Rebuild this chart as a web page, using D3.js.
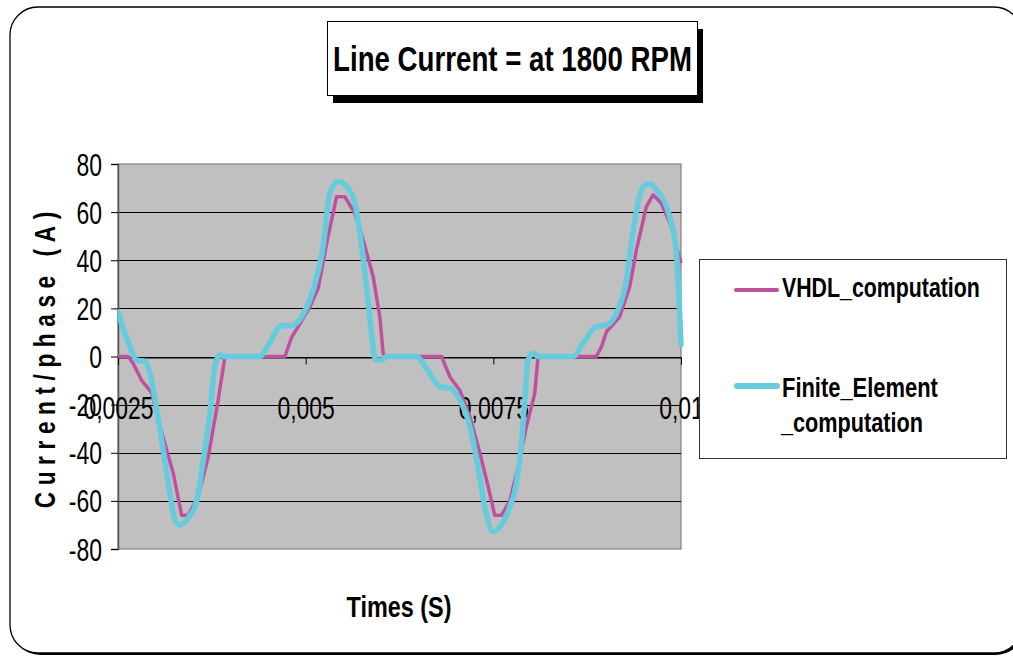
<!DOCTYPE html>
<html>
<head>
<meta charset="utf-8">
<script src="https://cdn.jsdelivr.net/npm/d3@7"></script>
<style>
  html, body { margin: 0; padding: 0; background: #fff; }
  svg { display: block; font-family: "Liberation Sans", Arial, sans-serif; }
</style>
</head>
<body>
<svg id="chart" width="1013" height="656"></svg>
<script>
// ---- Data ----
const chartTitle = "Line Current = at 1800 RPM";
const xTitle = "Times (S)";
const yTitle = "Current/phase  (A)";
const seriesNames = ["VHDL_computation", "Finite_Element", "_computation"];

const xTickValues = [0.0025, 0.005, 0.0075, 0.01];
const xTickLabels = ["0,0025", "0,005", "0,0075", "0,01"];
const yTickValues = [-80, -60, -40, -20, 0, 20, 40, 60, 80];
const yTickLabels = ["-80", "-60", "-40", "-20", "0", "20", "40", "60", "80"];

const vhdlTime = [0.0025, 0.002637, 0.002704, 0.002816, 0.002949, 0.003059, 0.003236, 0.003348, 0.003436,
  0.003569, 0.003702, 0.003835, 0.003925, 0.004723, 0.004813, 0.0049, 0.005056, 0.005167, 0.005279,
  0.005412, 0.005522, 0.005655, 0.005766, 0.005899, 0.005988, 0.006032, 0.006055, 0.00681, 0.00692,
  0.007053, 0.007187, 0.00732, 0.00743, 0.007519, 0.007609, 0.007719, 0.00783, 0.007941, 0.008052,
  0.008096, 0.008873, 0.00894, 0.009007, 0.009184, 0.009317, 0.009406, 0.009539, 0.009627, 0.009739,
  0.009872, 0.009939, 0.01];
const vhdlCurrent = [0, 0, -3, -10, -15, -29, -48.5, -66, -66,
  -58, -41.7, -18, 0, 0, 8, 12.4, 20.7, 28.4, 47,
  66.4, 66.4, 59.5, 48.4, 33.2, 16.5, 1.3, 0, 0, -8.4,
  -14, -25, -40, -54, -66, -66, -60, -46, -29, -15.3,
  0, 0, 4, 10.3, 16.5, 29, 44.3, 62.3, 67.2, 63.7,
  54, 45.7, 38.8];

const feTime = [0.0025, 0.00266, 0.002749, 0.00286, 0.002926, 0.003015, 0.003103, 0.003192, 0.003259,
  0.003325, 0.003436, 0.003548, 0.003636, 0.003725, 0.003791, 0.003858, 0.003925, 0.004391, 0.00448,
  0.004679, 0.004813, 0.004946, 0.0051, 0.005233, 0.005323, 0.005433, 0.005545, 0.005655, 0.005811,
  0.005878, 0.005931, 0.006011, 0.006077, 0.006121, 0.006477, 0.00661, 0.006787, 0.00692, 0.007053,
  0.007187, 0.007297, 0.007386, 0.007497, 0.007586, 0.007719, 0.007808, 0.007875, 0.007919, 0.007963,
  0.008029, 0.008096, 0.008562, 0.008695, 0.008873, 0.009007, 0.00914, 0.009273, 0.009339, 0.009427,
  0.009494, 0.009583, 0.009694, 0.009849, 0.009939, 0.01];
const feCurrent = [18.6, 4, -1.5, -2, -7, -22, -39, -57, -68,
  -70, -67, -60, -43, -23.5, -4, 0.6, 0, 0, 3.5,
  12.8, 12.8, 16.5, 27.6, 45.6, 68, 72.7, 70.6, 63.7, 29,
  9.6, -1.5, -1.5, 0, 0, 0, -5, -12.5, -13.2, -18,
  -29, -46, -62.5, -72.8, -70.8, -62.5, -52.7, -36, -18, -1.5,
  1.3, 0, 0, 5.5, 12.4, 13, 18, 31.8, 47, 63.7,
  70.6, 71.8, 68.5, 58, 43, 5];

// ---- Layout ----
const svg = d3.select("#chart");
const plot = { left: 118, right: 681, top: 164, bottom: 549 };
const colVHDL = "#BF50A0";
const colFE = "#66CCDD";

const x = d3.scaleLinear().domain([0.0025, 0.01]).range([plot.left, plot.right]);
const y = d3.scaleLinear().domain([-80, 80]).range([plot.bottom, plot.top]);

// helper: text horizontally condensed (to target width or fixed factor)
function addText(parent, str, px, py, o) {
  const t = parent.append("text")
    .attr("x", 0).attr("y", 0)
    .attr("text-anchor", o.anchor || "start")
    .attr("font-size", o.size)
    .attr("font-weight", o.weight || "normal")
    .attr("fill", "#000")
    .text(str);
  const natural = t.node().getComputedTextLength();
  const s = o.width ? o.width / natural : (o.sx || 0.82);
  t.attr("transform", `translate(${px},${py}) scale(${s},1)`);
  return t;
}

// Outer rounded frame with shadow
svg.append("rect").attr("x", 12).attr("y", 9).attr("width", 1012).attr("height", 646)
  .attr("rx", 28).attr("fill", "#000");
svg.append("rect").attr("x", 10).attr("y", 7).attr("width", 1012).attr("height", 646)
  .attr("rx", 28).attr("fill", "#fff").attr("stroke", "#000").attr("stroke-width", 1.3);

// Title box with shadow
svg.append("rect").attr("x", 333).attr("y", 29).attr("width", 370).attr("height", 74).attr("fill", "#000");
svg.append("rect").attr("x", 327.5).attr("y", 21.5).attr("width", 370).attr("height", 74)
  .attr("fill", "#fff").attr("stroke", "#000").attr("stroke-width", 1);
addText(svg, chartTitle, 512.5, 71, { size: 36, weight: "bold", anchor: "middle", width: 359 });

// Plot background
svg.append("rect").attr("x", plot.left).attr("y", plot.top)
  .attr("width", plot.right - plot.left).attr("height", plot.bottom - plot.top)
  .attr("fill", "#C0C0C0").attr("stroke", "#808080").attr("stroke-width", 1.2);

// Gridlines
svg.append("g").selectAll("line").data(yTickValues.filter(v => v !== 80 && v !== -80))
  .join("line")
  .attr("x1", plot.left).attr("x2", plot.right)
  .attr("y1", d => Math.round(y(d)) + 0.5).attr("y2", d => Math.round(y(d)) + 0.5)
  .attr("stroke", "#000").attr("stroke-width", 1);

// Y axis
const yAxis = svg.append("g").attr("transform", `translate(${plot.left},0)`)
  .call(d3.axisLeft(y).tickValues(yTickValues).tickSize(7).tickFormat((d, i) => yTickLabels[i]));
yAxis.select(".domain").attr("stroke", "#555").attr("stroke-width", 1.5);
yAxis.selectAll(".tick line").attr("stroke", "#000");
yAxis.selectAll(".tick text")
  .attr("x", null).attr("dy", null).attr("y", null)
  .attr("font-size", 31).attr("font-family", "Liberation Sans, Arial, sans-serif")
  .attr("text-anchor", "end").attr("fill", "#000")
  .attr("transform", "translate(-16,11) scale(0.74,1)");

// X axis at y = 0
const xAxis = svg.append("g").attr("transform", `translate(0,${Math.round(y(0)) + 0.5})`)
  .call(d3.axisBottom(x).tickValues(xTickValues).tickSize(7).tickFormat((d, i) => xTickLabels[i]));
xAxis.select(".domain").attr("stroke", "#000").attr("stroke-width", 1);
xAxis.selectAll(".tick line").attr("stroke", "#000");
xAxis.selectAll(".tick text")
  .attr("x", null).attr("dy", null).attr("y", null)
  .attr("font-size", 31).attr("font-family", "Liberation Sans, Arial, sans-serif")
  .attr("text-anchor", "middle").attr("fill", "#000")
  .attr("transform", "translate(0,61) scale(0.74,1)");

// Series lines
svg.append("clipPath").attr("id", "clip").append("rect")
  .attr("x", plot.left).attr("y", plot.top - 5)
  .attr("width", plot.right - plot.left + 3).attr("height", plot.bottom - plot.top + 10);

const vhdlData = vhdlTime.map((t, i) => [t, vhdlCurrent[i]]);
const feData = feTime.map((t, i) => [t, feCurrent[i]]);
const lineV = d3.line().x(d => x(d[0])).y(d => y(d[1]));
const lineF = d3.line().x(d => x(d[0])).y(d => y(d[1])).curve(d3.curveMonotoneX);

const lines = svg.append("g").attr("clip-path", "url(#clip)");
lines.append("path").datum(vhdlData).attr("d", lineV)
  .attr("fill", "none").attr("stroke", colVHDL).attr("stroke-width", 3.5)
  .attr("stroke-linejoin", "round");
lines.append("path").datum(feData).attr("d", lineF)
  .attr("fill", "none").attr("stroke", colFE).attr("stroke-width", 5.5)
  .attr("stroke-linejoin", "round").attr("stroke-linecap", "round");

// Axis titles
addText(svg, xTitle, 399, 617, { size: 30, weight: "bold", anchor: "middle", width: 105 });
svg.append("text")
  .attr("transform", "translate(55,360) rotate(-90) scale(0.78,1)")
  .attr("text-anchor", "middle")
  .attr("font-size", 29).attr("font-weight", "bold").attr("fill", "#000")
  .attr("textLength", 380).attr("lengthAdjust", "spacing")
  .text(yTitle);

// Legend
const lg = svg.append("g");
lg.append("rect").attr("x", 699.5).attr("y", 259.5).attr("width", 307).attr("height", 199)
  .attr("fill", "#fff").attr("stroke", "#333").attr("stroke-width", 1);
lg.append("line").attr("x1", 736).attr("x2", 777).attr("y1", 290).attr("y2", 290)
  .attr("stroke", colVHDL).attr("stroke-width", 4).attr("stroke-linecap", "round");
lg.append("line").attr("x1", 737).attr("x2", 777).attr("y1", 386).attr("y2", 386)
  .attr("stroke", colFE).attr("stroke-width", 6).attr("stroke-linecap", "round");
addText(lg, seriesNames[0], 782, 297, { size: 28, weight: "bold", width: 198 });
addText(lg, seriesNames[1], 782, 397, { size: 28, weight: "bold", width: 156 });
addText(lg, seriesNames[2], 781, 432, { size: 28, weight: "bold", width: 142 });
</script>
</body>
</html>
